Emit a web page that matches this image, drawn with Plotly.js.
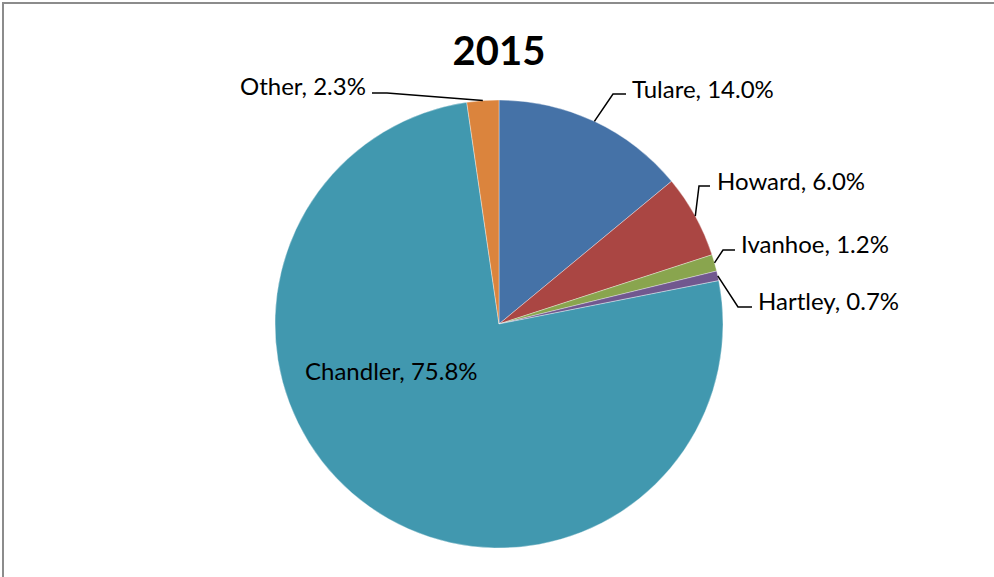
<!DOCTYPE html>
<html>
<head>
<meta charset="utf-8">
<script src="https://cdn.plot.ly/plotly-3.0.1.min.js"></script>
<style>html,body{margin:0;padding:0;background:#fff;}#chart{width:994px;height:577px;}</style>
</head>
<body>
<div id="chart"></div>
<script>
const categories = ["Tulare", "Howard", "Ivanhoe", "Hartley", "Chandler", "Other"];
const shares = [14.0, 6.0, 1.2, 0.7, 75.8, 2.3];
const colors = ["#4572A7", "#AA4643", "#89A54E", "#71588F", "#4198AF", "#DB843D"];
const chartTitle = "2015";

const W = 994, H = 577;
const cx = 499, cy = 324, R = 224;
const px = x => x / W;
const py = y => 1 - y / H;

const labelPos = {
  "Tulare":   {elbow:[613,94], end:[626,94], text:[630,88], anchor:"left"},
  "Howard":   {elbow:[699,186], end:[710,186], text:[715,180], anchor:"left"},
  "Ivanhoe":  {elbow:[723,250], end:[735,250], text:[739,243], anchor:"left"},
  "Hartley":  {elbow:[738,307], end:[752,307], text:[756,300], anchor:"left"},
  "Chandler": {inside:true, text:[303,370], anchor:"left"},
  "Other":    {elbow:[387,93], end:[372,93], text:[368,86], anchor:"right"}
};

const total = shares.reduce((a,b)=>a+b,0);
const shapes = [
  {type:"path", xref:"paper", yref:"paper",
   path:`M ${px(3)} ${py(577)} L ${px(3)} ${py(3)} L ${px(994)} ${py(3)}`,
   line:{color:"#8c8c8c", width:2}}
];
const annotations = [];
let cum = 0;
categories.forEach((c,i)=>{
  const mid = (cum + shares[i]/2) / total * 2 * Math.PI;
  cum += shares[i];
  const lp = labelPos[c];
  const sx = cx + R * Math.sin(mid), sy = cy - R * Math.cos(mid);
  if (!lp.inside) {
    shapes.push({type:"path", xref:"paper", yref:"paper",
      path:`M ${px(sx)} ${py(sy)} L ${px(lp.elbow[0])} ${py(lp.elbow[1])} L ${px(lp.end[0])} ${py(lp.end[1])}`,
      line:{color:"#000", width:1.5}});
  }
  annotations.push({xref:"paper", yref:"paper", x:px(lp.text[0]), y:py(lp.text[1]),
    xanchor:lp.anchor, yanchor:"middle", showarrow:false,
    text: c + ", " + shares[i].toFixed(1) + "%",
    font:{family:"Lato, 'Open Sans', sans-serif", size:24, color:"#000"}});
});

const data = [{
  type:"pie", labels:categories, values:shares, sort:false, direction:"clockwise", rotation:0,
  marker:{colors:colors, line:{color:"rgba(255,255,255,0.6)", width:0.6}},
  textinfo:"none", hoverinfo:"label+percent",
  domain:{x:[px(cx-R), px(cx+R)], y:[py(cy+R), py(cy-R)]}
}];

const layout = {
  width:W, height:H, margin:{l:0,r:0,t:0,b:0},
  paper_bgcolor:"#fff", showlegend:false,
  title:{text:"<b>"+chartTitle+"</b>", x:0.502, xanchor:"center", y:py(51), yanchor:"middle",
    font:{family:"Lato, 'Open Sans', sans-serif", size:40, color:"#000"}},
  shapes:shapes, annotations:annotations
};
Plotly.newPlot("chart", data, layout, {displayModeBar:false, staticPlot:true});
</script>
</body>
</html>
